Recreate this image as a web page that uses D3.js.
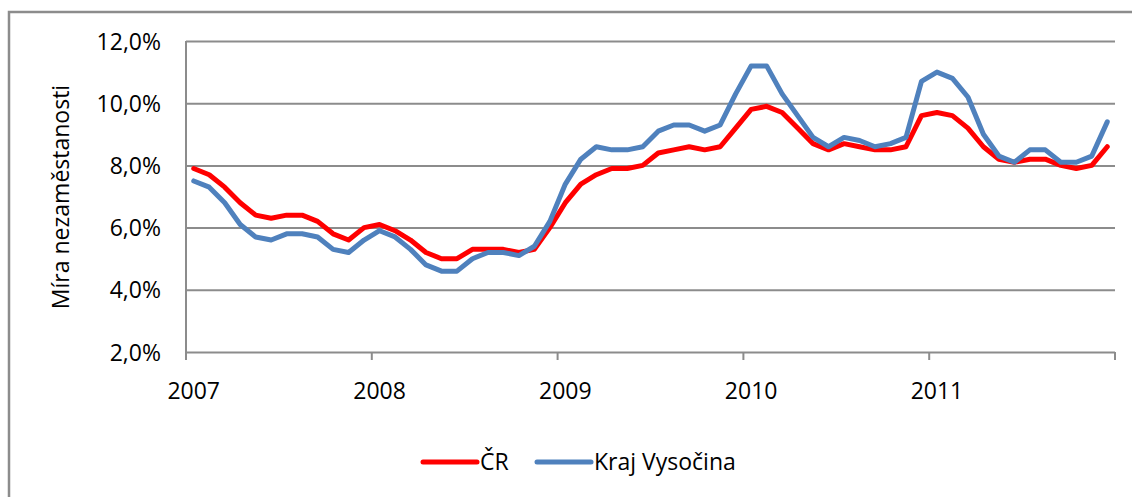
<!DOCTYPE html>
<html>
<head>
<meta charset="utf-8">
<script src="https://cdn.jsdelivr.net/npm/d3@7"></script>
<style>
  body { margin: 0; background: #fff; }
  text { font-family: "Open Sans", "Noto Sans", sans-serif; fill: #000; }
</style>
</head>
<body>
<svg id="chart" width="1132" height="497"></svg>
<script>
// years on the category axis, each one has 12 monthly points
var years = ["2007", "2008", "2009", "2010", "2011"];
var yTicks = [0.02, 0.04, 0.06, 0.08, 0.10, 0.12];

// unemployment rate, % (monthly)
var cr = [7.9, 7.7, 7.3, 6.8, 6.4, 6.3, 6.4, 6.4, 6.2, 5.8, 5.6, 6.0,
          6.1, 5.9, 5.6, 5.2, 5.0, 5.0, 5.3, 5.3, 5.3, 5.2, 5.3, 6.0,
          6.8, 7.4, 7.7, 7.9, 7.9, 8.0, 8.4, 8.5, 8.6, 8.5, 8.6, 9.2,
          9.8, 9.9, 9.7, 9.2, 8.7, 8.5, 8.7, 8.6, 8.5, 8.5, 8.6, 9.6,
          9.7, 9.6, 9.2, 8.6, 8.2, 8.1, 8.2, 8.2, 8.0, 7.9, 8.0, 8.6];
var kraj = [7.5, 7.3, 6.8, 6.1, 5.7, 5.6, 5.8, 5.8, 5.7, 5.3, 5.2, 5.6,
            5.9, 5.7, 5.3, 4.8, 4.6, 4.6, 5.0, 5.2, 5.2, 5.1, 5.4, 6.2,
            7.4, 8.2, 8.6, 8.5, 8.5, 8.6, 9.1, 9.3, 9.3, 9.1, 9.3, 10.3,
            11.2, 11.2, 10.3, 9.6, 8.9, 8.6, 8.9, 8.8, 8.6, 8.7, 8.9, 10.7,
            11.0, 10.8, 10.2, 9.0, 8.3, 8.1, 8.5, 8.5, 8.1, 8.1, 8.3, 9.4];

var series = [
  {name: "ČR", values: cr, color: "#ff0000"},
  {name: "Kraj Vysočina", values: kraj, color: "#4f81bd"}
];

var months = [];
years.forEach(function(y) {
  for (var m = 1; m <= 12; m++) months.push(y + "-" + m);
});

var svg = d3.select("#chart");
var plotLeft = 186, plotRight = 1115, plotTop = 41, plotBottom = 352;
var fontSize = "23px";

// outer frame (runs off the right/bottom of the picture)
svg.append("rect")
  .attr("x", 9).attr("y", 12)
  .attr("width", 1140).attr("height", 500)
  .attr("fill", "none")
  .attr("stroke", "#8c8c8c")
  .attr("stroke-width", 2.5);

var x = d3.scaleBand().domain(months).range([plotLeft, plotRight]).padding(0);
var y = d3.scaleLinear().domain([0.02, 0.12]).range([plotBottom, plotTop]);
var fmt = function(d) { return d3.format(".1%")(d).replace(".", ","); };

// gridlines + y labels
var yAxis = d3.axisLeft(y).tickValues(yTicks).tickSize(-(plotRight - plotLeft)).tickFormat(fmt);
var gy = svg.append("g")
  .attr("transform", "translate(" + plotLeft + ",0)")
  .call(yAxis);
gy.select(".domain").remove();
gy.selectAll(".tick line")
  .attr("stroke", "#8c8c8c")
  .attr("stroke-width", 2);
gy.selectAll(".tick text")
  .attr("x", -25)
  .attr("dy", "0.35em")
  .style("font-size", fontSize)
  .style("font-family", "'Open Sans', sans-serif")
  .attr("fill", "#000");

// vertical axis line
svg.append("line")
  .attr("x1", plotLeft).attr("x2", plotLeft)
  .attr("y1", plotTop).attr("y2", plotBottom + 8)
  .attr("stroke", "#8c8c8c").attr("stroke-width", 2);

// year boundary ticks
var tickPos = years.map(function(yr) { return x(yr + "-1"); }).concat([plotRight]);
svg.selectAll(".xtick")
  .data(tickPos)
  .enter().append("line")
  .attr("x1", function(d) { return d; })
  .attr("x2", function(d) { return d; })
  .attr("y1", plotBottom).attr("y2", plotBottom + 8)
  .attr("stroke", "#8c8c8c").attr("stroke-width", 2);

// year labels, centred on January
svg.selectAll(".yearlabel")
  .data(years)
  .enter().append("text")
  .attr("x", function(d) { return x(d + "-1") + x.bandwidth() / 2; })
  .attr("y", 399)
  .attr("text-anchor", "middle")
  .style("font-size", fontSize)
  .text(function(d) { return d; });

// y axis title
svg.append("text")
  .attr("transform", "translate(69,197) rotate(-90)")
  .attr("text-anchor", "middle")
  .style("font-size", fontSize)
  .text("Míra nezaměstanosti");

var line = d3.line()
  .x(function(d, i) { return x(months[i]) + x.bandwidth() / 2; })
  .y(function(d) { return y(d / 100); });

// red first, blue on top as in the original
svg.selectAll(".series")
  .data(series)
  .enter().append("path")
  .attr("d", function(s) { return line(s.values); })
  .attr("fill", "none")
  .attr("stroke", function(s) { return s.color; })
  .attr("stroke-width", 5)
  .attr("stroke-linejoin", "round")
  .attr("stroke-linecap", "round");

// legend
var legendX = [423, 537];
var lg = svg.selectAll(".legend")
  .data(series)
  .enter().append("g")
  .attr("transform", function(d, i) { return "translate(" + legendX[i] + ",462)"; });
lg.append("line")
  .attr("x1", 0).attr("x2", 54)
  .attr("stroke", function(d) { return d.color; })
  .attr("stroke-width", 5)
  .attr("stroke-linecap", "round");
lg.append("text")
  .attr("x", 57)
  .attr("dy", "0.35em")
  .style("font-size", fontSize)
  .text(function(d) { return d.name; });
</script>
</body>
</html>
